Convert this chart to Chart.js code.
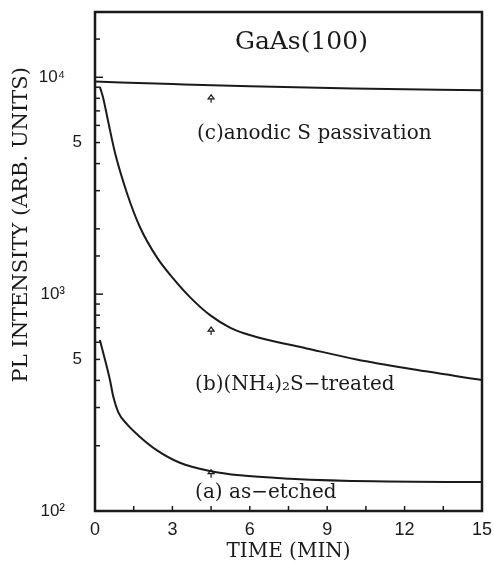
<!DOCTYPE html>
<html>
<head>
<meta charset="utf-8">
<script src="https://cdn.jsdelivr.net/npm/chart.js@4/dist/chart.umd.min.js"></script>
<style>
  body { margin: 0; background: #fff; }
  #wrap { width: 493px; height: 562px; }
</style>
</head>
<body>
<div id="wrap"><canvas id="plChart"></canvas></div>
<script>
// curve (a) as-etched
const timeA = [0.19, 0.58, 0.71, 0.9, 1.23, 1.7, 2.39, 3.29, 4.46, 5.62, 7.56, 10.8, 15];
const valA = [614, 402, 336, 286, 252, 222, 191, 167, 153, 146, 141, 137, 136];

// curve (b) (NH4)2S-treated
const timeB = [0.19, 0.31, 0.5, 0.78, 1.24, 1.74, 2.4, 3.02, 3.68, 4.46, 5.23, 5.81, 6.4, 8.2, 10.14, 12.08, 15];
const valB = [9020, 8090, 6340, 4460, 2920, 2040, 1477, 1185, 969, 800, 701, 658, 628, 562, 500, 455, 402];

// curve (c) anodic S passivation
const timeC = [0, 3, 6, 10, 15];
const valC = [9550, 9300, 9080, 8880, 8710];

// small up-arrows under each curve
const arrowTime = [4.5, 4.5, 4.5];
const arrowValue = [8300, 705, 155];

// axis tick labels
const yLabelValues = [100, 500, 1000, 5000, 10000];
const yLabelText = ['10²\u2003', '5', '10³\u2003', '5', '10⁴\u2003'];
const xLabelValues = [0, 3, 6, 9, 12, 15];

const ink = '#1a1a1a';
const serif = '"DejaVu Serif", serif';
const sans = '"Liberation Sans", Arial, sans-serif';

// text notes placed in data coordinates
const notes = [
    { text: 'GaAs(100)', t: 8.0, v: 14400, size: 25, align: 'center' },
    { text: '(c)anodic S passivation', t: 3.95, v: 5460, size: 20, align: 'left' },
    { text: '(b)(NH₄)₂S−treated', t: 3.88, v: 381, size: 20, align: 'left' },
    { text: '(a) as−etched', t: 3.88, v: 121, size: 20, align: 'left' }
];

function toPoints(ts, vs) {
    return ts.map((t, i) => ({ x: t, y: vs[i] }));
}

// frame, inward ticks, arrows and notes
const decorPlugin = {
    id: 'decor',
    afterDatasetsDraw(chart) {
        const { ctx, chartArea: a, scales: { x, y } } = chart;
        ctx.save();
        ctx.strokeStyle = ink;
        ctx.lineWidth = 1.5;

        y.ticks.forEach(tk => {
            if (tk.value <= y.min || tk.value >= y.max) return;
            const py = y.getPixelForValue(tk.value);
            const e = Math.log10(tk.value);
            const major = Math.abs(e - Math.round(e)) < 1e-6;
            ctx.beginPath();
            ctx.moveTo(a.left, py);
            ctx.lineTo(a.left + (major ? 8 : 5), py);
            ctx.stroke();
        });
        x.ticks.forEach(tk => {
            if (tk.value <= x.min || tk.value >= x.max) return;
            const px = x.getPixelForValue(tk.value);
            ctx.beginPath();
            ctx.moveTo(px, a.bottom);
            ctx.lineTo(px, a.bottom - 5);
            ctx.stroke();
        });

        // frame
        ctx.lineWidth = 2.5;
        ctx.strokeRect(a.left, a.top, a.right - a.left, a.bottom - a.top);

        // arrows
        ctx.lineWidth = 1.2;
        arrowTime.forEach((t, i) => {
            const px = x.getPixelForValue(t);
            const py = y.getPixelForValue(arrowValue[i]);
            ctx.beginPath();
            ctx.moveTo(px, py);
            ctx.lineTo(px - 3, py + 4);
            ctx.lineTo(px + 3, py + 4);
            ctx.closePath();
            ctx.moveTo(px, py + 4);
            ctx.lineTo(px, py + 8);
            ctx.stroke();
        });

        // notes
        ctx.fillStyle = ink;
        ctx.textBaseline = 'middle';
        notes.forEach(n => {
            ctx.font = n.size + 'px ' + serif;
            ctx.textAlign = n.align;
            ctx.fillText(n.text, x.getPixelForValue(n.t), y.getPixelForValue(n.v));
        });
        ctx.restore();
    }
};

const lineStyle = {
    borderColor: ink,
    borderWidth: 2,
    pointRadius: 0,
    fill: false,
    cubicInterpolationMode: 'monotone'
};

new Chart(document.getElementById('plChart').getContext('2d'), {
    type: 'line',
    data: {
        datasets: [
            { label: '(a) as-etched', data: toPoints(timeA, valA), ...lineStyle },
            { label: '(b)(NH4)2S-treated', data: toPoints(timeB, valB), ...lineStyle },
            { label: '(c)anodic S passivation', data: toPoints(timeC, valC), ...lineStyle }
        ]
    },
    options: {
        responsive: true,
        maintainAspectRatio: false,
        animation: false,
        layout: { padding: { top: 12, right: 11, left: 0, bottom: 0 } },
        plugins: {
            legend: { display: false },
            tooltip: { enabled: false }
        },
        scales: {
            x: {
                type: 'linear',
                min: 0,
                max: 15,
                grid: { display: false, drawTicks: false },
                border: { display: false },
                ticks: {
                    stepSize: 1.5,
                    autoSkip: false,
                    maxRotation: 0,
                    padding: 8,
                    color: ink,
                    font: { family: sans, size: 18 },
                    callback: v => xLabelValues.includes(v) ? String(v) : ''
                },
                title: {
                    display: true,
                    text: 'TIME (MIN)',
                    color: ink,
                    font: { family: serif, size: 20, lineHeight: 1 },
                    padding: { top: 0, bottom: 0 }
                },
                afterFit: s => {
                    s.height = 51;
                    s.paddingLeft = 0;
                    s.paddingRight = 0;
                }
            },
            y: {
                type: 'logarithmic',
                min: 100,
                max: 20000,
                grid: { display: false, drawTicks: false },
                border: { display: false },
                ticks: {
                    autoSkip: false,
                    padding: 13,
                    color: ink,
                    font: { family: sans, size: 17 },
                    callback: v => {
                        const i = yLabelValues.indexOf(v);
                        return i >= 0 ? yLabelText[i] : '';
                    }
                },
                title: {
                    display: true,
                    text: '\u00a0'.repeat(11) + 'PL INTENSITY (ARB. UNITS)',
                    color: ink,
                    font: { family: serif, size: 21, lineHeight: 1.2 },
                    padding: { top: 9, bottom: 0 }
                },
                afterFit: s => {
                    s.width = 95;
                    s.paddingTop = 0;
                    s.paddingBottom = 0;
                }
            }
        }
    },
    plugins: [decorPlugin]
});
</script>
</body>
</html>
